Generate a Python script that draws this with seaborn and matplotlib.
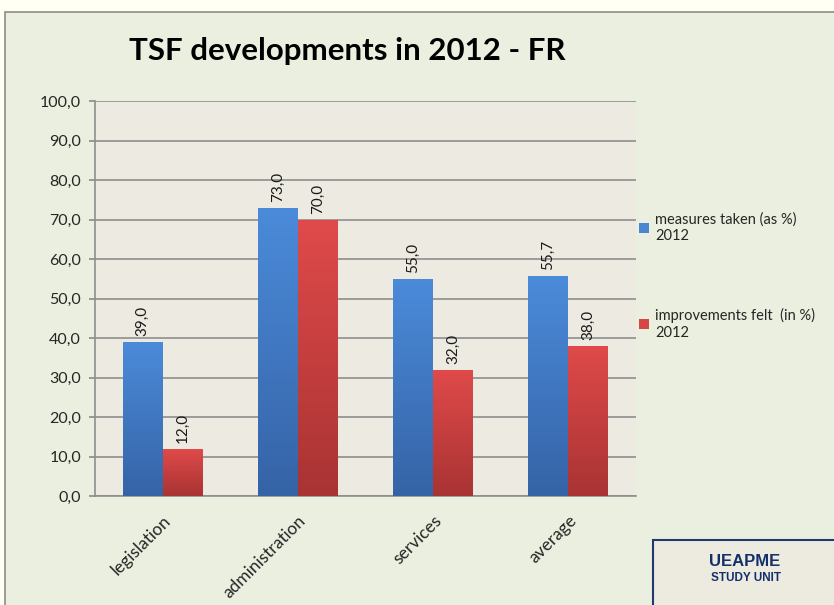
import numpy as np
import pandas as pd
import seaborn as sns
import matplotlib.pyplot as plt
from matplotlib.patches import Rectangle
from matplotlib.colors import LinearSegmentedColormap

categories = ["legislation", "administration", "services", "average"]
measures_taken = [39.0, 73.0, 55.0, 55.7]
improvements_felt = [12.0, 70.0, 32.0, 38.0]
series_names = ["measures taken (as %)\n2012", "improvements felt  (in %)\n2012"]
y_ticks = [0, 10, 20, 30, 40, 50, 60, 70, 80, 90, 100]

df = pd.DataFrame({
    "category": categories * 2,
    "value": measures_taken + improvements_felt,
    "series": [series_names[0]] * 4 + [series_names[1]] * 4,
})

sns.set_theme(style="white")
plt.rcParams["font.family"] = ["Lato", "DejaVu Sans"]

fig = plt.figure(figsize=(8.34, 6.05), dpi=100)
fig.patch.set_facecolor("#FFFFF4")
# outer chart frame
fig.patches.append(Rectangle((5 / 834, -0.01), 1.0, 1 - 12 / 605 + 0.01, transform=fig.transFigure,
                             facecolor="#EAEFDF", edgecolor="#8C8C8C", linewidth=1.2, zorder=-5))

ax = fig.add_axes([95 / 834, 1 - 496 / 605, 541 / 834, 395 / 605])
ax.set_facecolor("#EDEBE1")

palette = {series_names[0]: "#4A86D2", series_names[1]: "#D74545"}
sns.barplot(data=df, x="category", y="value", hue="series", palette=palette,
            width=0.59, saturation=1, ax=ax, zorder=3, linewidth=0, edgecolor="none")

# vertical gradient on bars
grad = np.linspace(1, 0, 256).reshape(-1, 1)
cmaps = {0: LinearSegmentedColormap.from_list("b", ["#3563A6", "#4B8BDA"]),
         1: LinearSegmentedColormap.from_list("r", ["#A93333", "#E04A4A"])}
for i, cont in enumerate(ax.containers):
    for p in cont:
        x0, y0 = p.get_x(), p.get_y()
        w, h = p.get_width(), p.get_height()
        im = ax.imshow(grad, cmap=cmaps[i], aspect="auto", extent=[x0, x0 + w, y0, y0 + h],
                       zorder=4, vmin=0, vmax=1)
        im.set_clip_path(p)
    ax.bar_label(cont, labels=[f"{v:.1f}".replace(".", ",") for v in cont.datavalues],
                 rotation=90, padding=4, fontsize=11, color="#1a1a1a")

ax.set_xlim(-0.5, 3.5)
ax.set_ylim(0, 100)
ax.set_yticks(y_ticks)
ax.set_yticklabels([f"{v:.1f}".replace(".", ",") for v in y_ticks], fontsize=11.5)
ax.yaxis.grid(True, color="#8E8E8E", linewidth=1.2, zorder=0)
ax.set_axisbelow(True)
ax.tick_params(axis="y", left=True, length=4, color="#8E8E8E", pad=6)
ax.tick_params(axis="x", bottom=False, pad=6)
ax.set_xticks(range(len(categories)))
ax.set_xticklabels(categories, rotation=45, ha="right", rotation_mode="anchor", fontsize=12.5)
ax.set_xlabel("")
ax.set_ylabel("")
for s in ["top", "right"]:
    ax.spines[s].set_visible(False)
for s in ["left", "bottom"]:
    ax.spines[s].set_color("#8E8E8E")
    ax.spines[s].set_linewidth(1.2)

handles, labels = ax.get_legend_handles_labels()
ax.get_legend().remove()
fig.legend(handles, labels, loc="upper left", bbox_to_anchor=(626 / 834, 1 - 199 / 605),
           frameon=False, fontsize=10.5, handlelength=0.7, handleheight=0.7,
           handletextpad=0.4, labelspacing=4.5)

fig.text(347 / 834, 1 - 51 / 605, "TSF developments in 2012 - FR", ha="center", va="center",
         fontsize=22.5, fontweight="bold", color="black")

# UEAPME box
fig.patches.append(Rectangle((653 / 834, -0.01), 0.3, (605 - 540) / 605 + 0.01, transform=fig.transFigure,
                             facecolor="#EDEAE0", edgecolor="#1F3A6E", linewidth=1.5, zorder=1))
fig.text(745 / 834, 1 - 561 / 605, "UEAPME", ha="center", va="center", fontsize=12,
         fontweight="bold", color="#13306A", family=["Liberation Sans", "DejaVu Sans"])
fig.text(746 / 834, 1 - 578 / 605, "STUDY UNIT", ha="center", va="center", fontsize=8.5,
         fontweight="bold", color="#13306A", family=["Liberation Sans", "DejaVu Sans"])

fig.savefig("out.png", dpi=100)
